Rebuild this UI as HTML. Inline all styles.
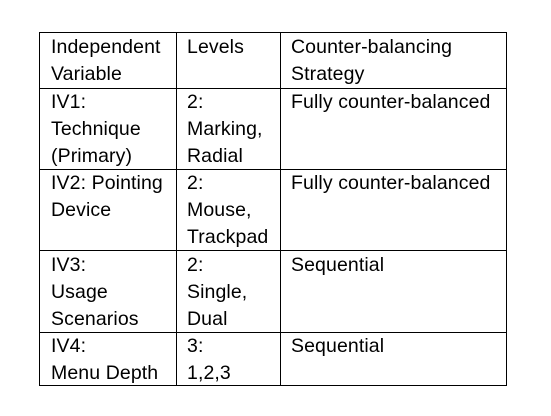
<!DOCTYPE html>
<html><head><style>
body{margin:0;width:551px;height:416px;background:#fff;position:relative;overflow:hidden;font-family:"Liberation Sans",sans-serif;font-size:19.5px;color:#000}
.l{position:absolute;background:#000}
.t{position:absolute;line-height:27px;white-space:nowrap;letter-spacing:0.1px}
</style></head><body>
<div class="l" style="left:39px;top:32px;width:468px;height:1px"></div>
<div class="l" style="left:39px;top:88px;width:468px;height:1px"></div>
<div class="l" style="left:39px;top:169px;width:468px;height:1px"></div>
<div class="l" style="left:39px;top:250px;width:468px;height:1px"></div>
<div class="l" style="left:39px;top:332px;width:468px;height:1px"></div>
<div class="l" style="left:39px;top:385px;width:468px;height:1px"></div>
<div class="l" style="left:39px;top:32px;width:1px;height:354px"></div>
<div class="l" style="left:176px;top:32px;width:1px;height:354px"></div>
<div class="l" style="left:280px;top:32px;width:1px;height:354px"></div>
<div class="l" style="left:506px;top:32px;width:1px;height:354px"></div>

<div class="t" style="left:51px;top:34px">Independent<br>Variable</div>
<div class="t" style="left:187px;top:34px">Levels</div>
<div class="t" style="left:291px;top:34px">Counter-balancing<br>Strategy</div>

<div class="t" style="left:51px;top:89px">IV1:<br>Technique<br>(Primary)</div>
<div class="t" style="left:187px;top:89px">2:<br>Marking,<br>Radial</div>
<div class="t" style="left:291px;top:89px">Fully counter-balanced</div>

<div class="t" style="left:51px;top:170px">IV2: Pointing<br>Device</div>
<div class="t" style="left:187px;top:170px">2:<br>Mouse,<br>Trackpad</div>
<div class="t" style="left:291px;top:170px">Fully counter-balanced</div>

<div class="t" style="left:51px;top:252px">IV3:<br>Usage<br>Scenarios</div>
<div class="t" style="left:187px;top:252px">2:<br>Single,<br>Dual</div>
<div class="t" style="left:291px;top:252px">Sequential</div>

<div class="t" style="left:51px;top:333px">IV4:<br>Menu Depth</div>
<div class="t" style="left:187px;top:333px">3:<br>1,2,3</div>
<div class="t" style="left:291px;top:333px">Sequential</div>
</body></html>
